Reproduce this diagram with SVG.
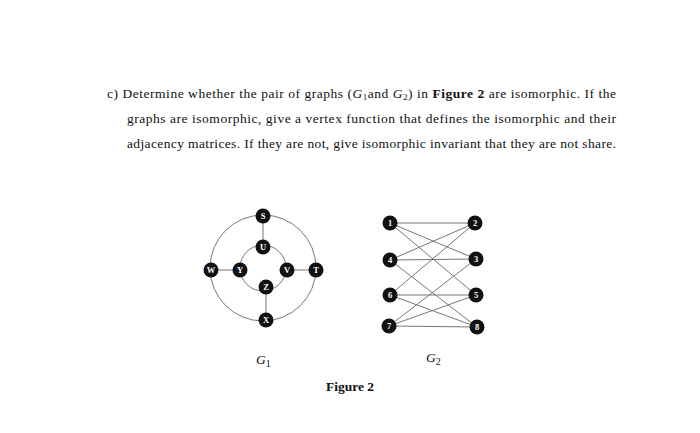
<svg xmlns="http://www.w3.org/2000/svg" width="700" height="433" viewBox="0 0 700 433">
<style>
.t{font-family:"Liberation Serif",serif;font-size:13.5px;fill:#111}
.e{stroke:#777;stroke-width:1;fill:none}
.n{fill:#111}
.l{font-family:"Liberation Serif",serif;font-size:8.5px;font-weight:bold;fill:#fff;text-anchor:middle}
</style>
<rect width="700" height="433" fill="#fff"/>
<text class="t" x="107" y="98" textLength="509" lengthAdjust="spacing">c)  Determine whether the pair of graphs (<tspan font-style="italic">G</tspan><tspan font-size="9" dy="2">1</tspan><tspan dy="-2">and </tspan><tspan font-style="italic">G</tspan><tspan font-size="9" dy="2">2</tspan><tspan dy="-2">) in </tspan><tspan font-weight="bold">Figure 2</tspan> are isomorphic. If the</text>
<text class="t" x="127" y="123" textLength="489" lengthAdjust="spacing">graphs are isomorphic, give a vertex function that defines the isomorphic and their</text>
<text class="t" x="127" y="148" textLength="489" lengthAdjust="spacing">adjacency matrices. If they are not, give isomorphic invariant that they are not share.</text>
<g id="connectors">
<circle class="e" cx="263" cy="268" r="53"/>
<circle class="e" cx="263" cy="268" r="23"/>
<line class="e" x1="263" y1="216" x2="263" y2="247"/>
<line class="e" x1="211" y1="270" x2="240" y2="270"/>
<line class="e" x1="287" y1="270" x2="316" y2="270"/>
<line class="e" x1="266" y1="287" x2="266" y2="320"/>
<line class="e" x1="390" y1="223" x2="475" y2="223"/>
<line class="e" x1="390" y1="223" x2="476" y2="259"/>
<line class="e" x1="390" y1="223" x2="476" y2="295"/>
<line class="e" x1="390" y1="260" x2="475" y2="223"/>
<line class="e" x1="390" y1="260" x2="476" y2="259"/>
<line class="e" x1="390" y1="260" x2="477" y2="327"/>
<line class="e" x1="390" y1="295" x2="475" y2="223"/>
<line class="e" x1="390" y1="295" x2="476" y2="295"/>
<line class="e" x1="390" y1="295" x2="477" y2="327"/>
<line class="e" x1="389" y1="326" x2="476" y2="259"/>
<line class="e" x1="389" y1="326" x2="476" y2="295"/>
<line class="e" x1="389" y1="326" x2="477" y2="327"/>
</g>
<g id="S"><circle class="n" cx="263" cy="216" r="7.5"/><text class="l" x="263" y="219">S</text></g>
<g id="U"><circle class="n" cx="263" cy="247" r="7.5"/><text class="l" x="263" y="250">U</text></g>
<g id="W"><circle class="n" cx="211" cy="270" r="7.5"/><text class="l" x="211" y="273">W</text></g>
<g id="Y"><circle class="n" cx="240" cy="270" r="7.5"/><text class="l" x="240" y="273">Y</text></g>
<g id="V"><circle class="n" cx="287" cy="270" r="7.5"/><text class="l" x="287" y="273">V</text></g>
<g id="T"><circle class="n" cx="316" cy="270" r="7.5"/><text class="l" x="316" y="273">T</text></g>
<g id="Z"><circle class="n" cx="266" cy="287" r="7.5"/><text class="l" x="266" y="290">Z</text></g>
<g id="X"><circle class="n" cx="266" cy="320" r="7.5"/><text class="l" x="266" y="323">X</text></g>
<g id="n1"><circle class="n" cx="390" cy="223" r="7.5"/><text class="l" x="390" y="226">1</text></g>
<g id="n4"><circle class="n" cx="390" cy="260" r="7.5"/><text class="l" x="390" y="263">4</text></g>
<g id="n6"><circle class="n" cx="390" cy="295" r="7.5"/><text class="l" x="390" y="298">6</text></g>
<g id="n7"><circle class="n" cx="389" cy="326" r="7.5"/><text class="l" x="389" y="329">7</text></g>
<g id="n2"><circle class="n" cx="475" cy="223" r="7.5"/><text class="l" x="475" y="226">2</text></g>
<g id="n3"><circle class="n" cx="476" cy="259" r="7.5"/><text class="l" x="476" y="262">3</text></g>
<g id="n5"><circle class="n" cx="476" cy="295" r="7.5"/><text class="l" x="476" y="298">5</text></g>
<g id="n8"><circle class="n" cx="477" cy="327" r="7.5"/><text class="l" x="477" y="330">8</text></g>
<text class="t" x="256" y="364" font-style="italic" font-size="15">G<tspan font-style="normal" font-size="10" dy="3">1</tspan></text>
<text class="t" x="426" y="362" font-style="italic" font-size="15">G<tspan font-style="normal" font-size="10" dy="3">2</tspan></text>
<text class="t" x="350" y="391" text-anchor="middle" font-weight="bold">Figure 2</text>
</svg>
